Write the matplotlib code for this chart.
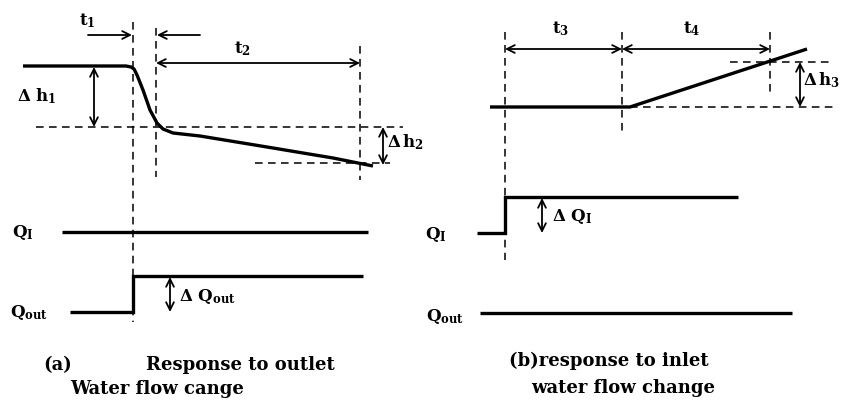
import matplotlib
matplotlib.use("Agg")
import matplotlib.pyplot as plt

plt.rcParams['mathtext.fontset'] = 'custom'
plt.rcParams['mathtext.rm'] = 'DejaVu Serif:bold'
plt.rcParams['mathtext.it'] = 'DejaVu Serif:bold'
plt.rcParams['mathtext.bf'] = 'DejaVu Serif:bold'
plt.rcParams['font.family'] = ['DejaVu Serif']

# ---------------- data (schematic, in image pixel units) ----------------
# Panel (a): level response to outlet change
level_a_x = [23, 126, 131, 134, 137, 143, 150, 157, 163, 173, 200, 267, 333, 373]
level_a_y = [66, 66, 67, 69, 75, 90, 110, 123, 129, 133, 136, 147, 158, 166]
qin_a_x = [62, 368]
qin_a_y = [232, 232]
qout_a_x = [70, 133, 133, 363]
qout_a_y = [312, 312, 276, 276]

# Panel (b): level response to inlet change
level_b_x = [490, 630, 807]
level_b_y = [107, 107, 49]
qin_b_x = [477, 505, 505, 738]
qin_b_y = [233, 233, 197, 197]
qout_b_x = [480, 792]
qout_b_y = [313, 313]

# dashed guide lines: (x0, y0, x1, y1)
guides = [
    (133, 22, 133, 322), (156, 28, 156, 177), (360, 46, 360, 180),
    (36, 127, 403, 127), (255, 163, 390, 163),
    (505, 32, 505, 260), (622, 32, 622, 133), (770, 32, 770, 93),
    (630, 107, 833, 107), (730, 62, 833, 62),
]

# arrows: (x_from, y_from, x_to, y_to, style)
arrows = [
    (88, 35, 132, 35, '->'), (200, 35, 157, 35, '->'),
    (156, 63, 360, 63, '<->'), (94, 67, 94, 127, '<->'),
    (383, 127, 383, 165, '<->'), (170, 277, 170, 312, '<->'),
    (505, 49, 622, 49, '<->'), (622, 49, 770, 49, '<->'),
    (800, 62, 800, 107, '<->'), (542, 198, 542, 233, '<->'),
]

# labels: (x, y, text, ha)
labels = [
    (87, 21, r'$t_1$', 'center'), (242, 49, r'$t_2$', 'center'),
    (17, 96, r'$\Delta\ h_1$', 'left'), (387, 142, r'$\Delta\,h_2$', 'left'),
    (561, 29, r'$t_3$', 'center'), (692, 29, r'$t_4$', 'center'),
    (803, 80, r'$\Delta\,h_3$', 'left'),
    (12, 233, r'$Q_I$', 'left'), (10, 313, r'$Q_{out}$', 'left'),
    (179, 296, r'$\Delta\ Q_{out}$', 'left'),
    (425, 234, r'$Q_I$', 'left'), (426, 317, r'$Q_{out}$', 'left'),
    (552, 217, r'$\Delta\ Q_I$', 'left'),
]

captions = [
    (43, 365, '(a)'), (146, 365, 'Response to outlet'),
    (70, 389, 'Water flow cange'),
    (509, 361, '(b)response to inlet'), (531, 388, 'water flow change'),
]

# ---------------- drawing ----------------
fig = plt.figure(figsize=(8.41, 4.01), dpi=100)
ax = fig.add_axes([0, 0, 1, 1])
ax.set_xlim(0, 841)
ax.set_ylim(401, 0)
ax.axis('off')

for (x0, y0, x1, y1) in guides:
    ax.plot([x0, x1], [y0, y1], color='black', lw=1.1, ls=(0, (5, 3.5)))

solid_kw = dict(color='black', lw=2.4, solid_joinstyle='miter', solid_capstyle='butt')
ax.plot(level_a_x, level_a_y, **solid_kw)
ax.plot(qin_a_x, qin_a_y, **solid_kw)
ax.plot(qout_a_x, qout_a_y, **solid_kw)
ax.plot(level_b_x, level_b_y, **solid_kw)
ax.plot(qin_b_x, qin_b_y, **solid_kw)
ax.plot(qout_b_x, qout_b_y, **solid_kw)

for (x0, y0, x1, y1, st) in arrows:
    ax.annotate('', xy=(x1, y1), xytext=(x0, y0),
                arrowprops=dict(arrowstyle=st, lw=1.3, color='black',
                                mutation_scale=14, shrinkA=0, shrinkB=0))

for (x, y, t, ha) in labels:
    ax.text(x, y, t, ha=ha, va='center', fontsize=12, color='black')

for (x, y, t) in captions:
    ax.text(x, y, t, ha='left', va='center', fontsize=13, fontweight='bold',
            color='black')

fig.savefig('out.png', dpi=100)
